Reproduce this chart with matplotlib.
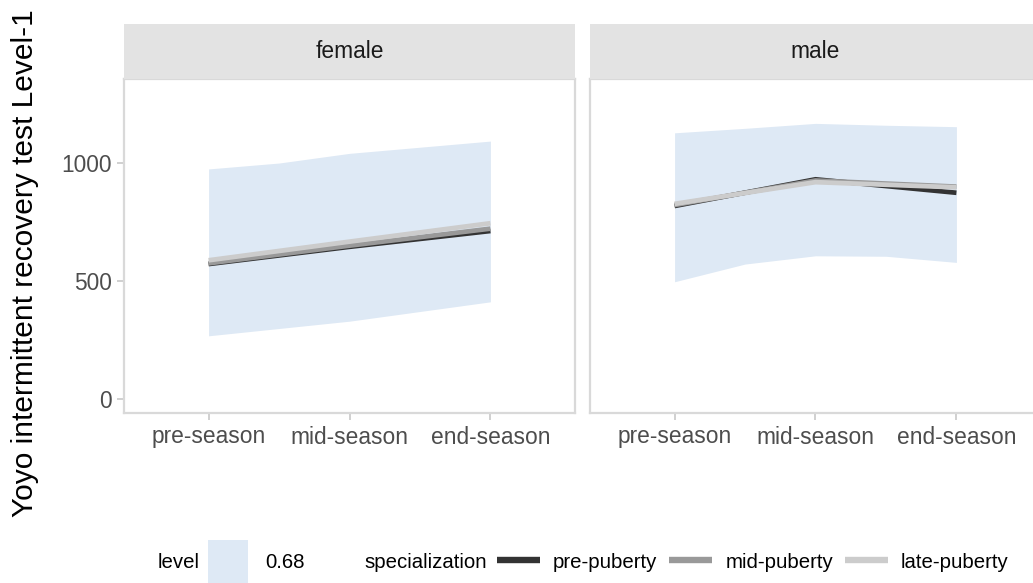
import matplotlib
matplotlib.use("Agg")
import matplotlib.pyplot as plt
from matplotlib.patches import Patch
from matplotlib.lines import Line2D

plt.rcParams['font.family'] = ['Liberation Sans', 'DejaVu Sans']

# ---- data -------------------------------------------------------------
seasons = ["pre-season", "mid-season", "end-season"]
season_pos = [1, 2, 3]
panels = ["female", "male"]
groups = ["pre-puberty", "mid-puberty", "late-puberty"]

# 68% interval band (sampled along the season axis)
band_pos = [1, 1.5, 2, 2.5, 3]
female_band_low = [268, 299, 330, 371, 412]
female_band_high = [975, 1000, 1041, 1067, 1093]
male_band_low = [497, 572, 607, 605, 579]
male_band_high = [1128, 1147, 1168, 1160, 1154]

# group means per season
female_pre = [572, 645, 712]
female_mid = [575, 650, 722]
female_late = [588, 667, 745]
male_pre = [818, 931, 874]
male_mid = [822, 926, 900]
male_late = [827, 919, 897]

y_ticks = [0, 500, 1000]

# ---- styling ----------------------------------------------------------
band_color = "#dee9f5"
group_colors = ["#333333", "#999999", "#cccccc"]
border_color = "#d9d9d9"
strip_color = "#e3e3e3"
tick_color = "#4d4d4d"

W, H = 1033, 583
fig = plt.figure(figsize=(W / 100, H / 100), dpi=100)

def fx(px):
    return px / W

def fy(py):
    return 1 - py / H

panel_top, panel_bottom = 79, 413
panel_w = 451
panel_lefts = [124, 590]

series = {
    "female": ([female_pre, female_mid, female_late], female_band_low, female_band_high),
    "male": ([male_pre, male_mid, male_late], male_band_low, male_band_high),
}

for i, name in enumerate(panels):
    left = panel_lefts[i]
    ax = fig.add_axes([fx(left), fy(panel_bottom), fx(panel_w),
                       (panel_bottom - panel_top) / H])
    lines, lo, hi = series[name]
    ax.fill_between(band_pos, lo, hi, color=band_color, lw=0, zorder=1)
    for vals, col in zip(lines, group_colors):
        ax.plot(season_pos, vals, color=col, lw=3.4, solid_capstyle="butt",
                solid_joinstyle="miter", zorder=2)
    ax.set_xlim(0.4, 3.6)
    ax.set_ylim(-59, 1356)
    ax.set_xticks(season_pos)
    ax.set_xticklabels(seasons)
    ax.set_yticks(y_ticks)
    ax.tick_params(axis="both", colors="#c8c8c8", labelcolor=tick_color,
                   labelsize=16.4, length=5, width=1.2, pad=4)
    if i == 0:
        ax.set_yticklabels([str(v) for v in y_ticks])
    else:
        ax.tick_params(axis="y", left=False, labelleft=False)
    for sp in ax.spines.values():
        sp.set_color(border_color)
        sp.set_linewidth(1.6)
    ax.set_facecolor("white")

    # facet strip
    sax = fig.add_axes([fx(left), fy(panel_top), fx(panel_w), (panel_top - 24) / H])
    sax.set_facecolor(strip_color)
    sax.set_xticks([])
    sax.set_yticks([])
    for sp in sax.spines.values():
        sp.set_visible(False)
    sax.text(0.5, 0.5, name, ha="center", va="center", fontsize=16.4,
             color="#1a1a1a", transform=sax.transAxes)

fig.text(fx(25), fy(263), "Yoyo intermittent recovery test Level-1",
         rotation=90, ha="center", va="center", fontsize=21.5, color="black")

# ---- legends ----------------------------------------------------------
legend_y = fy(562)
fig.text(fx(158), legend_y, "level", ha="left", va="center", fontsize=14.7)
leg1 = fig.legend(handles=[Patch(facecolor=band_color, edgecolor="none")],
                  labels=["0.68"], loc="center left",
                  bbox_to_anchor=(fx(208), legend_y), frameon=False,
                  fontsize=14.7, handlelength=1.96, handleheight=2.87,
                  handletextpad=0.83, borderpad=0, borderaxespad=0)

fig.text(fx(364), legend_y, "specialization", ha="left", va="center", fontsize=14.7)
handles = [Line2D([0], [0], color=c, lw=4.6, solid_capstyle="butt") for c in group_colors]
leg2 = fig.legend(handles=handles, labels=groups, loc="center left",
                  bbox_to_anchor=(fx(497), legend_y), frameon=False, ncol=3,
                  fontsize=14.7, handlelength=2.1, handletextpad=0.64,
                  columnspacing=0.59, borderpad=0, borderaxespad=0)

fig.savefig("out.png", dpi=100)
